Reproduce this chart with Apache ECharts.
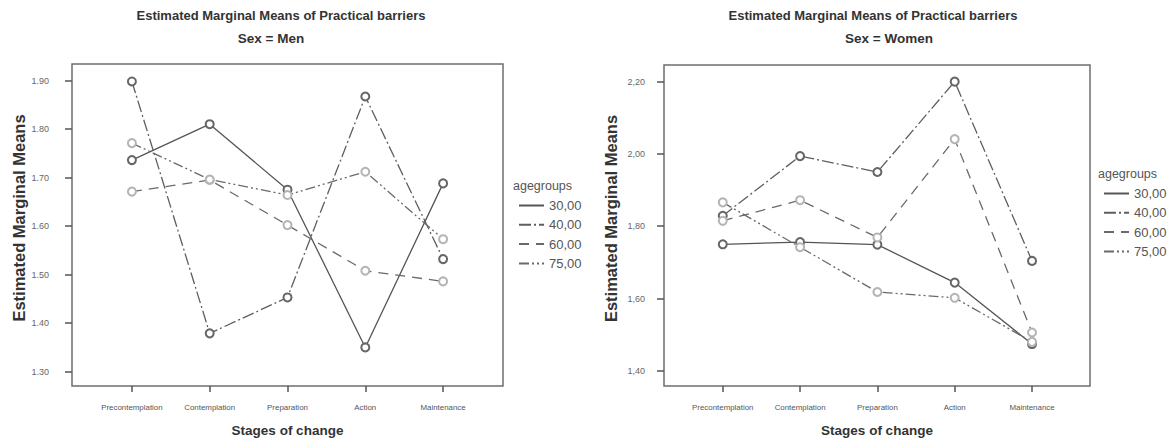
<!DOCTYPE html>
<html><head><meta charset="utf-8">
<script src="https://cdn.jsdelivr.net/npm/echarts@6/dist/echarts.min.js"></script>
<style>html,body{margin:0;padding:0;background:#fff}#c{width:1167px;height:442px}</style>
</head><body><div id="c"></div>
<script>
const stages = ['Precontemplation','Contemplation','Preparation','Action','Maintenance'];
const ageGroups = ['30,00','40,00','60,00','75,00'];
const men30 = [1.736, 1.810, 1.675, 1.350, 1.688];
const men40 = [1.898, 1.379, 1.453, 1.867, 1.532];
const men60 = [1.671, 1.695, 1.602, 1.508, 1.486];
const men75 = [1.771, 1.696, 1.664, 1.712, 1.573];
const women30 = [1.750, 1.756, 1.749, 1.644, 1.474];
const women40 = [1.829, 1.994, 1.950, 2.200, 1.704];
const women60 = [1.815, 1.872, 1.769, 2.041, 1.506];
const women75 = [1.866, 1.742, 1.618, 1.602, 1.480];
const menTicks = [1.30, 1.40, 1.50, 1.60, 1.70, 1.80, 1.90];
const womenTicks = [1.40, 1.60, 1.80, 2.00, 2.20];
const catIdx = [0, 1, 2, 3, 4];

const styles = [
  {type: 'solid', color: '#555555', mark: '#666666'},
  {type: [12, 3, 2, 3], color: '#5e5e5e', mark: '#666666'},
  {type: [10, 7], color: '#6a6a6a', mark: '#b4b4b4'},
  {type: [10, 3, 2, 3, 2, 3], color: '#6a6a6a', mark: '#b4b4b4'}
];
const menData = [men30, men40, men60, men75];
const womenData = [women30, women40, women60, women75];

function mk(values, gi, si) {
  return {
    type: 'line', name: ageGroups[si], xAxisIndex: gi, yAxisIndex: gi,
    data: values.map((v, i) => [catIdx[i], v]),
    symbol: 'emptyCircle', symbolSize: 8,
    lineStyle: {width: 1.3, color: styles[si].color, type: styles[si].type},
    itemStyle: {color: styles[si].mark, borderColor: styles[si].mark, borderWidth: 1},
    emphasis: {disabled: true}, z: 3
  };
}
const series = [];
menData.forEach((d, i) => series.push(mk(d, 0, i)));
womenData.forEach((d, i) => series.push(mk(d, 1, i)));

const fontF = 'Liberation Sans, Arial, sans-serif';
function xAx(gi, mn, mx) {
  return {
    type: 'value', gridIndex: gi, min: mn, max: mx,
    axisLine: {show: false, onZero: false},
    splitLine: {show: false},
    axisTick: {show: true, customValues: catIdx, length: 6, lineStyle: {color: '#555', width: 1.5}},
    axisLabel: {customValues: catIdx, formatter: v => stages[Math.round(v)], fontSize: 7.9, color: '#555', margin: 17, fontFamily: fontF},
    name: 'Stages of change', nameLocation: 'middle', nameGap: 37,
    nameTextStyle: {fontSize: 13.5, fontWeight: 'bold', color: '#333', fontFamily: fontF}
  };
}
function yAx(gi, mn, mx, ticks, comma, margin) {
  return {
    type: 'value', gridIndex: gi, min: mn, max: mx,
    axisLine: {show: false, onZero: false},
    splitLine: {show: false},
    axisTick: {show: true, customValues: ticks, length: 7, lineStyle: {color: '#555', width: 1.5}},
    axisLabel: {customValues: ticks, formatter: v => comma ? v.toFixed(2).replace('.', ',') : v.toFixed(2), fontSize: 9, color: '#666', margin: margin, fontFamily: fontF},
    name: 'Estimated Marginal Means', nameLocation: 'middle', nameGap: 45,
    nameTextStyle: {fontSize: 16.5, fontWeight: 'bold', color: '#333', fontFamily: fontF, padding: [0, 0, 0, 14]}
  };
}
function lg(left, top) {
  return {
    orient: 'vertical', left: left, top: top, data: ageGroups,
    itemWidth: 25, itemHeight: 12, itemGap: 6.3, selectedMode: false,
    itemStyle: {opacity: 0},
    textStyle: {fontSize: 13, color: '#555', fontFamily: fontF}
  };
}
function txt(x, y, t, size, bold) {
  return {type: 'text', x: x, y: y, style: {text: t, fill: '#333', font: (bold ? 'bold ' : '') + size + 'px ' + fontF, textAlign: 'center', textVerticalAlign: 'middle'}};
}
function txtL(x, y, t) {
  return {type: 'text', x: x, y: y, style: {text: t, fill: '#555', font: '12.5px ' + fontF, textAlign: 'left', textVerticalAlign: 'middle'}};
}

const chart = echarts.init(document.getElementById('c'), null, {renderer: 'svg'});
chart.setOption({
  animation: false,
  backgroundColor: '#fff',
  grid: [
    {left: 72, top: 64, width: 431, height: 322, show: true, borderColor: '#6e6e6e', borderWidth: 1.5, backgroundColor: 'transparent'},
    {left: 664, top: 65, width: 426, height: 323, show: true, borderColor: '#6e6e6e', borderWidth: 1.5, backgroundColor: 'transparent'}
  ],
  xAxis: [xAx(0, -0.77, 4.77), xAx(1, -0.76, 4.75)],
  yAxis: [yAx(0, 1.2705, 1.934, menTicks, false, 23), yAx(1, 1.358, 2.246, womenTicks, true, 19)],
  legend: [lg(513, 194), lg(1098, 182)],
  graphic: [
    txt(281, 15, 'Estimated Marginal Means of Practical barriers', 13, true),
    txt(271, 38, 'Sex = Men', 13.5, true),
    txt(873, 15, 'Estimated Marginal Means of Practical barriers', 13, true),
    txt(889, 38, 'Sex = Women', 13.5, true),
    txtL(513, 186, 'agegroups'),
    txtL(1098, 174, 'agegroups')
  ],
  series: series
});
</script></body></html>
